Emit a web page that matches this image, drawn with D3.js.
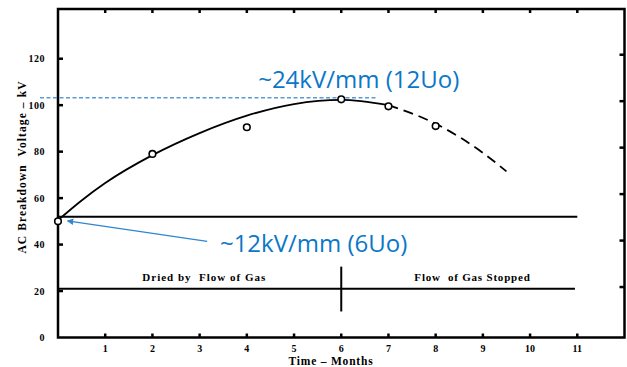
<!DOCTYPE html>
<html>
<head>
<meta charset="utf-8">
<script src="https://cdn.jsdelivr.net/npm/d3@7"></script>
<style>
  body { margin: 0; background: #fff; }
  text { font-family: "Liberation Serif", serif; }
</style>
</head>
<body>
<svg id="chart"></svg>
<script>
// ---- data ----
var monthTicks = [1, 2, 3, 4, 5, 6, 7, 8, 9, 10, 11];
var voltTicks = [0, 20, 40, 60, 80, 100, 120];

var measMonths = [0, 2, 4, 6, 7, 8];
var measKV = [50, 79, 90.5, 102.5, 99.5, 91];

// fitted curve, solid part then dashed extrapolation
var fitMonths = [0, 0.5, 1, 2, 3, 4, 5, 6, 7];
var fitKV = [50.5, 59, 66.5, 78.5, 88, 95.5, 100.5, 102.3, 100];
var extMonths = [7, 8, 9, 9.5];
var extKV = [100, 92, 79.5, 71.5];

var peakKV = 103.2;      // blue dashed level
var dryLineKV = 52;      // upper black line
var gasLineKV = 21;      // lower black line
var dividerMonth = 6;

var width = 627, height = 367;

var svg = d3.select('#chart')
            .attr('width', width)
            .attr('height', height);

var x = d3.scaleLinear().domain([0, 12]).range([58, 624.5]);
var y = d3.scaleLinear().domain([0, 141.4]).range([337.5, 9]);

// frame
svg.append('rect')
   .attr('x', x(0)).attr('y', y(141.4))
   .attr('width', x(12) - x(0)).attr('height', y(0) - y(141.4))
   .attr('fill', 'none').attr('stroke', '#000').attr('stroke-width', 2.5);

// ticks (all inward)
var tickG = svg.append('g').attr('stroke', '#000').attr('stroke-width', 2.5);
monthTicks.forEach(function (m) {
    tickG.append('line').attr('x1', x(m)).attr('x2', x(m)).attr('y1', y(0)).attr('y2', y(0) - 4);
    tickG.append('line').attr('x1', x(m)).attr('x2', x(m)).attr('y1', y(141.4)).attr('y2', y(141.4) + 4);
});
voltTicks.forEach(function (v) {
    if (v === 0) return;
    tickG.append('line').attr('x1', x(0)).attr('x2', x(0) + 5).attr('y1', y(v)).attr('y2', y(v));
    tickG.append('line').attr('x1', x(12)).attr('x2', x(12) - 5).attr('y1', y(v) - 4).attr('y2', y(v) - 4);
});

// tick labels
svg.selectAll('.xl').data(monthTicks).enter().append('text')
   .attr('x', function (d) { return x(d); })
   .attr('y', 352)
   .attr('text-anchor', 'middle')
   .style('font-size', '10px').style('font-weight', 'bold')
   .text(function (d) { return d; });

svg.selectAll('.yl').data(voltTicks).enter().append('text')
   .attr('x', 45)
   .attr('y', function (d) { return y(d) + 3.5; })
   .attr('text-anchor', 'end')
   .style('font-size', '10px').style('font-weight', 'bold')
   .style('letter-spacing', '0.5px')
   .text(function (d) { return d; });

// axis titles
svg.append('text')
   .attr('x', 331).attr('y', 365)
   .attr('text-anchor', 'middle')
   .style('font-size', '11.5px').style('font-weight', 'bold')
   .style('letter-spacing', '0.8px')
   .style('white-space', 'pre')
   .text('Time \u2013 Months');

svg.append('text')
   .attr('transform', 'translate(26,167) rotate(-90)')
   .attr('text-anchor', 'middle')
   .style('font-size', '11.5px').style('font-weight', 'bold')
   .style('letter-spacing', '1.1px')
   .style('white-space', 'pre')
   .text('AC Breakdown  Voltage \u2013 kV');

// black reference lines
svg.append('line')
   .attr('x1', x(0)).attr('x2', x(11)).attr('y1', y(dryLineKV)).attr('y2', y(dryLineKV))
   .attr('stroke', '#000').attr('stroke-width', 2);
svg.append('line')
   .attr('x1', x(0)).attr('x2', x(10.95)).attr('y1', y(gasLineKV)).attr('y2', y(gasLineKV))
   .attr('stroke', '#000').attr('stroke-width', 2);
svg.append('line')
   .attr('x1', x(dividerMonth)).attr('x2', x(dividerMonth)).attr('y1', y(30.5)).attr('y2', y(11.2))
   .attr('stroke', '#000').attr('stroke-width', 2);

svg.append('text')
   .attr('x', x(3.1)).attr('y', y(24.5))
   .attr('text-anchor', 'middle')
   .style('font-size', '11px').style('font-weight', 'bold')
   .style('letter-spacing', '1px')
   .style('white-space', 'pre')
   .text('Dried by  Flow of Gas');
svg.append('text')
   .attr('x', x(8.78)).attr('y', y(24.5))
   .attr('text-anchor', 'middle')
   .style('font-size', '11px').style('font-weight', 'bold')
   .style('letter-spacing', '0.8px')
   .style('white-space', 'pre')
   .text('Flow  of Gas Stopped');

// blue peak level
svg.append('line')
   .attr('x1', 40).attr('x2', 378).attr('y1', y(peakKV)).attr('y2', y(peakKV))
   .attr('stroke', '#5b9bd5').attr('stroke-width', 1.3)
   .attr('stroke-dasharray', '4,2.5');

// curves
var line = d3.line()
             .x(function (d) { return x(d[0]); })
             .y(function (d) { return y(d[1]); })
             .curve(d3.curveMonotoneX);

svg.append('path')
   .datum(d3.zip(fitMonths, fitKV))
   .attr('d', line)
   .attr('fill', 'none').attr('stroke', '#000').attr('stroke-width', 1.8);

svg.append('path')
   .datum(d3.zip(extMonths, extKV))
   .attr('d', line)
   .attr('fill', 'none').attr('stroke', '#000').attr('stroke-width', 1.8)
   .attr('stroke-dasharray', '10,6');

// measured points
svg.selectAll('.pt').data(d3.zip(measMonths, measKV)).enter().append('circle')
   .attr('cx', function (d) { return x(d[0]); })
   .attr('cy', function (d) { return y(d[1]); })
   .attr('r', 3.3)
   .attr('fill', '#fff').attr('stroke', '#000').attr('stroke-width', 1.6);

// blue annotations
var defs = svg.append('defs');
defs.append('marker')
    .attr('id', 'arrow')
    .attr('viewBox', '0 0 10 10')
    .attr('refX', 9).attr('refY', 5)
    .attr('markerWidth', 5).attr('markerHeight', 5)
    .attr('orient', 'auto')
    .append('path').attr('d', 'M0,0 L10,5 L0,10 z').attr('fill', '#2e86d0');

svg.append('line')
   .attr('x1', x(3.16)).attr('y1', y(41.4))
   .attr('x2', x(0.2)).attr('y2', y(50.2))
   .attr('stroke', '#2e86d0').attr('stroke-width', 1.3)
   .attr('marker-end', 'url(#arrow)');

svg.append('text')
   .attr('x', x(4.24)).attr('y', y(107.3))
   .attr('fill', '#0a77c8')
   .style('font-family', '"Open Sans", sans-serif')
   .style('font-size', '24px')
   .text('~24kV/mm (12Uo)');

svg.append('text')
   .attr('x', x(3.43)).attr('y', y(36.6))
   .attr('fill', '#0a77c8')
   .style('font-family', '"Open Sans", sans-serif')
   .style('font-size', '24px')
   .text('~12kV/mm (6Uo)');
</script>
</body>
</html>
